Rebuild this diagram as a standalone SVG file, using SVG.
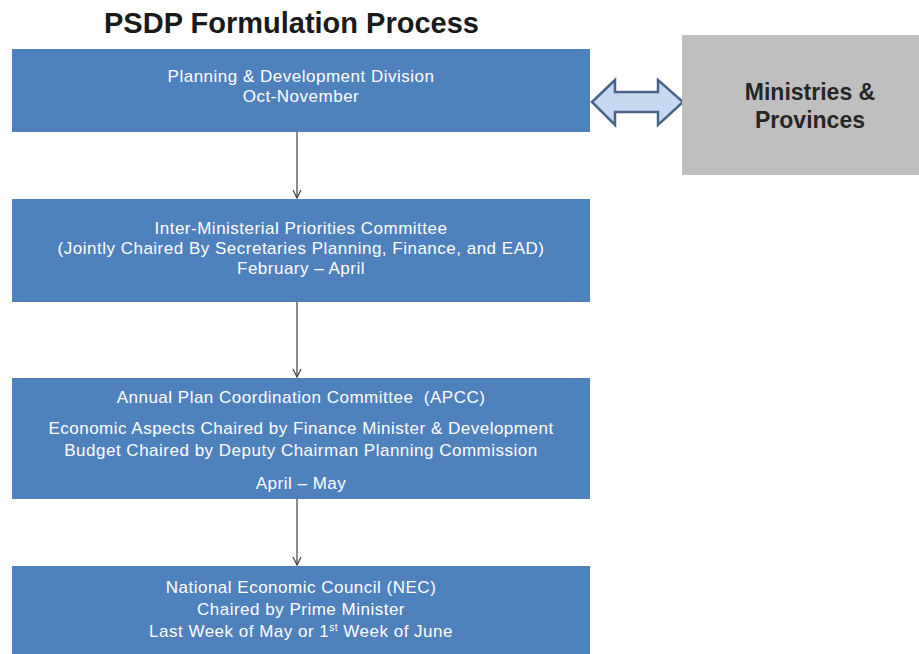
<svg xmlns="http://www.w3.org/2000/svg" width="919" height="654" viewBox="0 0 919 654">
<defs>
<style>
.box{fill:#4f81bd;}
.bt{font-family:"Liberation Sans",Arial,sans-serif;font-size:17px;letter-spacing:0.5px;fill:#ffffff;text-anchor:middle;}
.title{font-family:"Liberation Sans",Arial,sans-serif;font-size:29px;font-weight:bold;fill:#1a1a1a;}
.gt{font-family:"Liberation Sans",Arial,sans-serif;font-size:23px;font-weight:bold;fill:#262626;text-anchor:middle;}
.conn{stroke:#404040;stroke-width:1.2;fill:none;marker-end:url(#arr);}
</style>
<marker id="arr" viewBox="0 0 10 10" refX="9" refY="5" markerWidth="10" markerHeight="10" markerUnits="userSpaceOnUse" orient="auto">
<path d="M1,1 L9,5 L1,9" fill="none" stroke="#404040" stroke-width="1.2"/>
</marker>
</defs>
<rect width="919" height="654" fill="#ffffff"/>
<text class="title" x="104" y="33">PSDP Formulation Process</text>

<g id="connectors">
<line class="conn" x1="297" y1="132" x2="297" y2="198"/>
<line class="conn" x1="297" y1="302" x2="297" y2="377"/>
<line class="conn" x1="297" y1="499" x2="297" y2="565"/>
<polygon id="double-arrow" points="592,102 615,80 615,92 658,92 658,80 683,102 658,125 658,112 615,112 615,125" fill="#c6d9f1" stroke="#4a6489" stroke-width="2.5" stroke-linejoin="miter"/>
</g>

<g id="node-pdd">
<rect class="box" x="12" y="49" width="578" height="83"/>
<text class="bt" x="301" y="82">Planning &amp; Development Division</text>
<text class="bt" x="301" y="102">Oct-November</text>
</g>

<g id="node-impc">
<rect class="box" x="12" y="199" width="578" height="103"/>
<text class="bt" x="301" y="234">Inter-Ministerial Priorities Committee</text>
<text class="bt" x="301" y="254">(Jointly Chaired By Secretaries Planning, Finance, and EAD)</text>
<text class="bt" x="301" y="274">February – April</text>
</g>

<g id="node-apcc">
<rect class="box" x="12" y="378" width="578" height="121"/>
<text class="bt" x="301" y="403">Annual Plan Coordination Committee &#160;(APCC)</text>
<text class="bt" x="301" y="434">Economic Aspects Chaired by Finance Minister &amp; Development</text>
<text class="bt" x="301" y="456">Budget Chaired by Deputy Chairman Planning Commission</text>
<text class="bt" x="301" y="489">April – May</text>
</g>

<g id="node-nec">
<rect class="box" x="12" y="566" width="578" height="90"/>
<text class="bt" x="301" y="593">National Economic Council (NEC)</text>
<text class="bt" x="301" y="615">Chaired by Prime Minister</text>
<text class="bt" x="301" y="637">Last Week of May or 1<tspan font-size="10" dy="-6">st</tspan><tspan dy="6"> Week of June</tspan></text>
</g>

<g id="node-ministries">
<rect x="682" y="35" width="237" height="140" fill="#bfbfbf"/>
<text class="gt" x="810" y="100">Ministries &amp;</text>
<text class="gt" x="810" y="128">Provinces</text>
</g>
</svg>
